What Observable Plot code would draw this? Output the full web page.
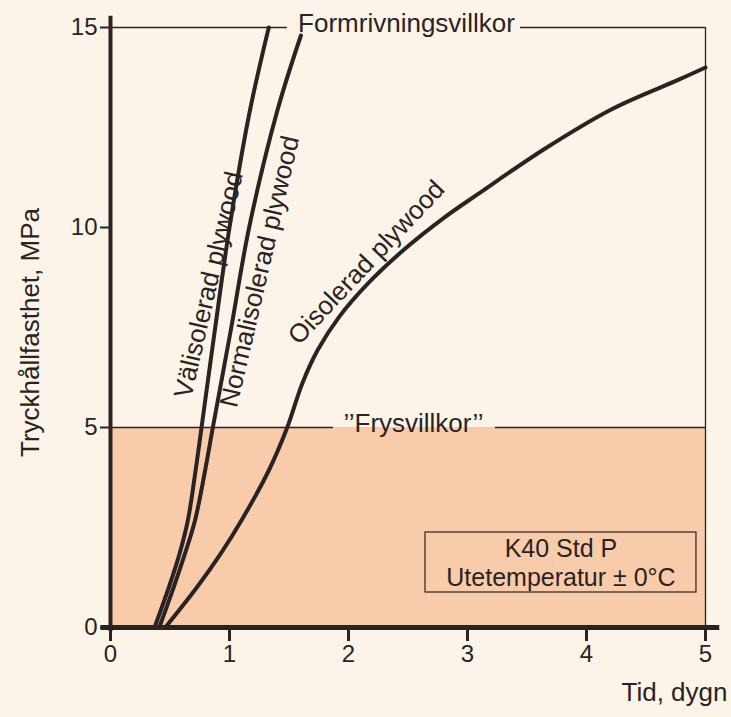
<!DOCTYPE html>
<html><head><meta charset="utf-8">
<script src="https://cdn.jsdelivr.net/npm/d3@7"></script>
<script src="https://cdn.jsdelivr.net/npm/@observablehq/plot@0.6"></script>
<style>html,body{margin:0;padding:0;background:#fcf4e9;}</style>
</head><body><div id="chart"></div>
<script>
// --- data ---
const valX  = [0.37, 0.49, 0.58, 0.65, 0.715, 0.765, 0.88, 1.0, 1.17, 1.33];
const valY  = [0, 1, 1.84, 2.675, 3.925, 5, 7.5, 10, 12.9, 15];
const normX = [0.41, 0.53, 0.625, 0.71, 0.795, 0.86, 1.015, 1.165, 1.40, 1.6];
const normY = [0, 1, 1.84, 2.675, 3.925, 5, 7.5, 10, 12.9, 14.8];
const oisX  = [0.46, 0.725, 0.925, 1.10, 1.33, 1.485, 1.61, 1.74, 1.92, 2.16, 2.46, 2.81, 3.09, 3.65, 4.22, 4.77, 5.0];
const oisY  = [0, 1, 1.84, 2.675, 3.925, 5, 6.09, 6.93, 7.76, 8.59, 9.43, 10.26, 10.84, 11.97, 12.97, 13.69, 14.0];

const seriesNames = ["Välisolerad plywood", "Normalisolerad plywood", "Oisolerad plywood"];
const labelX = [0.826, 1.256, 2.151];
const labelY = [8.57, 8.9, 9.125];
const labelAngle = [-77, -77, -46.6];

const xTicks = [0, 1, 2, 3, 4, 5];
const yTicks = [0, 5, 10, 15];
const xDomain = [0, 5];
const yDomain = [0, 15];

const frostLevel = 5;       // "Frysvillkor"
const formLevel = 15;       // Formrivningsvillkor
const refNames = ["Formrivningsvillkor", "’’Frysvillkor’’"];
const refLevels = [formLevel, frostLevel];
const refLabelX = [2.487, 2.546];
const refGapLeft = [1.487, 1.874];
const refGapRight = [3.445, 3.235];

const noteLines = ["K40 Std P", "Utetemperatur ± 0°C"];
const noteBoxX = [2.647, 4.924];
const noteBoxY = [0.875, 2.375];

const xLabel = "Tid, dygn";
const yLabel = "Tryckhållfasthet, MPa";

// --- build tables ---
const INK = "#2a2321", BG = "#fcf4e9", PEACH = "#f8cbab";
const curves = [
  ...valX.map((x, i) => ({series: seriesNames[0], x, y: valY[i]})),
  ...normX.map((x, i) => ({series: seriesNames[1], x, y: normY[i]})),
  ...oisX.map((x, i) => ({series: seriesNames[2], x, y: oisY[i]}))
];
const curveLabels = seriesNames.map((t, i) => ({text: t, x: labelX[i], y: labelY[i], r: labelAngle[i]}));
const segments = refLevels.flatMap((y, i) => [
  {y, x1: xDomain[0], x2: refGapLeft[i]},
  {y, x1: refGapRight[i], x2: xDomain[1]}
]);
const refLabels = refNames.map((t, i) => ({text: t, x: refLabelX[i], y: refLevels[i]}));

const plot = Plot.plot({
  width: 731, height: 717,
  marginLeft: 110, marginRight: 26, marginTop: 27, marginBottom: 90,
  x: {domain: xDomain},
  y: {domain: yDomain},
  style: {background: BG, color: INK, fontFamily: "'Liberation Sans', Arial, sans-serif", overflow: "visible"},
  marks: [
    Plot.rect([{x1: xDomain[0], x2: xDomain[1], y1: 0, y2: frostLevel}], {x1: "x1", x2: "x2", y1: "y1", y2: "y2", fill: PEACH}),
    Plot.ruleY(segments, {y: "y", x1: "x1", x2: "x2", stroke: INK, strokeWidth: 1.3}),
    Plot.ruleX([{x: xDomain[1], y1: 0, y2: formLevel}], {x: "x", y1: "y1", y2: "y2", stroke: INK, strokeWidth: 1.3}),
    Plot.text(refLabels, {x: "x", y: "y", text: "text", fontSize: 26, dy: -4, fill: INK}),
    Plot.rect([{x1: noteBoxX[0], x2: noteBoxX[1], y1: noteBoxY[0], y2: noteBoxY[1]}], {x1: "x1", x2: "x2", y1: "y1", y2: "y2", fill: "none", stroke: INK, strokeWidth: 1.2}),
    Plot.text([noteLines.join("\n")], {x: (noteBoxX[0] + noteBoxX[1]) / 2, y: (noteBoxY[0] + noteBoxY[1]) / 2, text: d => d, fontSize: 25, lineHeight: 1.15, fill: INK}),
    Plot.line(curves, {x: "x", y: "y", z: "series", curve: "catmull-rom", stroke: INK, strokeWidth: 4}),
    Plot.text(curveLabels, {x: "x", y: "y", text: "text", rotate: "r", fontSize: 26, fill: INK}),
    Plot.axisX({ticks: xTicks, tickFormat: "d", tickSize: 14, tickPadding: 3, strokeWidth: 3, fontSize: 24, label: null}),
    Plot.axisY({ticks: yTicks, tickFormat: "d", tickSize: 10, tickPadding: 3, strokeWidth: 2, fontSize: 24, label: null}),
    Plot.ruleY([{y: 0, x1: -0.08, x2: 5.12}], {y: "y", x1: "x1", x2: "x2", stroke: INK, strokeWidth: 5}),
    Plot.ruleX([{x: 0, y1: -0.1, y2: 15.28}], {x: "x", y1: "y1", y2: "y2", stroke: INK, strokeWidth: 4}),
    Plot.text([xLabel], {frameAnchor: "bottom-right", text: d => d, textAnchor: "end", dx: 22, dy: 73, fontSize: 26, fill: INK}),
    Plot.text([yLabel], {frameAnchor: "left", text: d => d, textAnchor: "middle", rotate: -90, dx: -80, dy: 5, fontSize: 26, fill: INK})
  ]
});
document.getElementById("chart").append(plot);
</script>
</body></html>
